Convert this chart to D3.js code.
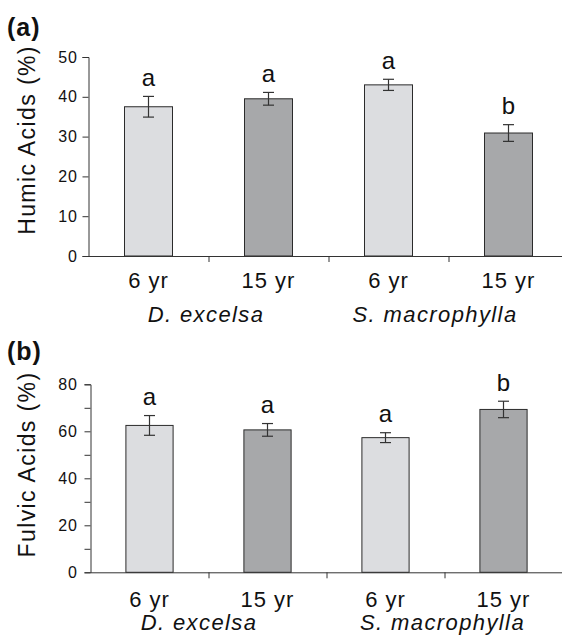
<!DOCTYPE html>
<html>
<head>
<meta charset="utf-8">
<script src="https://cdn.jsdelivr.net/npm/d3@7"></script>
<style>
  body { margin: 0; background: #fff; }
  svg { display: block; font-family: "Liberation Sans", Arial, sans-serif; }
  .axis path, .axis line { stroke: #333; }
  .axis text { font-size: 16px; fill: #111; letter-spacing: 1px; font-family: "Liberation Sans", Arial, sans-serif; }
</style>
</head>
<body>
<svg id="chart" width="562" height="635"></svg>
<script>
// bar order: D. excelsa 6 yr, 15 yr, S. macrophylla 6 yr, 15 yr
var categories = ["6 yr", "15 yr", "6 yr", "15 yr"];
var species = ["D. excelsa", "S. macrophylla"];

var humicMean = [37.5, 39.5, 43.0, 30.9];
var humicErr = [2.6, 1.6, 1.4, 2.1];
var humicLetters = ["a", "a", "a", "b"];
var humicTicks = [0, 10, 20, 30, 40, 50];

var fulvicMean = [62.5, 60.6, 57.3, 69.3];
var fulvicErr = [4.2, 2.7, 2.1, 3.5];
var fulvicLetters = ["a", "a", "a", "b"];
var fulvicTicks = [0, 10, 20, 30, 40, 50, 60, 70, 80];

var ageColor = { "6 yr": "#dcdde0", "15 yr": "#a7a8aa" };

var svg = d3.select('svg#chart');

function drawPanel(p) {
  var g = svg.append('g');
  var idx = d3.range(categories.length);

  var x = d3.scaleBand()
    .domain(idx)
    .range([p.x0, p.x0 + p.step * idx.length])
    .paddingInner(0.6)
    .paddingOuter(0.3);

  // linear twin of the band scale, used for separator ticks on the x axis
  var xSep = d3.scaleLinear()
    .domain([0, idx.length])
    .range(x.range());

  var y = d3.scaleLinear()
    .domain([0, p.max])
    .range([p.yBottom, p.yTop]);

  // bars
  g.selectAll('rect.bar').data(idx).enter().append('rect')
    .attr('class', 'bar')
    .attr('x', i => x(i))
    .attr('y', i => y(p.mean[i]))
    .attr('width', x.bandwidth())
    .attr('height', i => y(0) - y(p.mean[i]))
    .attr('fill', i => ageColor[categories[i]])
    .attr('stroke', '#2b2b2b')
    .attr('stroke-width', 1);

  // error bars
  var eb = g.selectAll('g.err').data(idx).enter().append('g')
    .attr('class', 'err')
    .attr('transform', i => 'translate(' + (x(i) + x.bandwidth() / 2) + ',0)')
    .attr('stroke', '#333')
    .attr('stroke-width', 1.2);
  eb.append('line')
    .attr('x1', 0).attr('x2', 0)
    .attr('y1', i => y(p.mean[i] - p.err[i]))
    .attr('y2', i => y(p.mean[i] + p.err[i]));
  eb.append('line')
    .attr('x1', -5.5).attr('x2', 5.5)
    .attr('y1', i => y(p.mean[i] + p.err[i]))
    .attr('y2', i => y(p.mean[i] + p.err[i]));
  eb.append('line')
    .attr('x1', -5.5).attr('x2', 5.5)
    .attr('y1', i => y(p.mean[i] - p.err[i]))
    .attr('y2', i => y(p.mean[i] - p.err[i]));

  // significance letters
  g.selectAll('text.sig').data(idx).enter().append('text')
    .attr('class', 'sig')
    .attr('x', i => x(i) + x.bandwidth() / 2)
    .attr('y', i => y(p.mean[i] + p.err[i]) - 10.5)
    .attr('text-anchor', 'middle')
    .attr('font-size', 24)
    .attr('fill', '#111')
    .text(i => p.letters[i]);

  // y axis
  g.append('g')
    .attr('class', 'axis')
    .attr('transform', 'translate(' + p.x0 + ',0)')
    .call(d3.axisLeft(y)
      .tickValues(p.ticks)
      .tickSize(6)
      .tickPadding(p.pad)
      .tickFormat(d => (d % p.labelEvery === 0 ? d : '')));

  // x axis with separators between bars
  g.append('g')
    .attr('class', 'axis')
    .attr('transform', 'translate(0,' + y(0) + ')')
    .call(d3.axisBottom(xSep)
      .tickValues([1, 2, 3])
      .tickSize(6)
      .tickSizeOuter(0)
      .tickFormat(''));

  // category labels
  g.selectAll('text.cat').data(idx).enter().append('text')
    .attr('class', 'cat')
    .attr('x', i => x(i) + x.bandwidth() / 2)
    .attr('y', p.catY)
    .attr('text-anchor', 'middle')
    .attr('font-size', 22)
    .attr('letter-spacing', 1)
    .attr('fill', '#111')
    .text(i => categories[i]);

  g.selectAll('text.sp').data(species).enter().append('text')
    .attr('class', 'sp')
    .attr('x', (d, j) => xSep(2 * j + 1) + p.spShift[j])
    .attr('y', p.spY)
    .attr('text-anchor', 'middle')
    .attr('font-size', 22)
    .attr('font-style', 'italic')
    .attr('letter-spacing', 1.4)
    .attr('fill', '#111')
    .text(d => d);

  // y title
  g.append('text')
    .attr('transform', 'translate(35,' + p.titleY + ') rotate(-90)')
    .attr('text-anchor', 'middle')
    .attr('font-size', 23)
    .attr('letter-spacing', 1.4)
    .attr('fill', '#111')
    .text(p.title);

  // panel label
  g.append('text')
    .attr('x', 7)
    .attr('y', p.labelY)
    .attr('font-size', 25)
    .attr('font-weight', 'bold')
    .attr('letter-spacing', 1)
    .attr('fill', '#111')
    .text(p.label);
}

drawPanel({
  label: '(a)', labelY: 36,
  title: 'Humic Acids (%)', titleY: 140,
  mean: humicMean, err: humicErr, letters: humicLetters,
  ticks: humicTicks, labelEvery: 10, max: 50, pad: 4.5,
  x0: 88.5, step: 120, yTop: 57, yBottom: 256,
  catY: 288, spY: 322, spShift: [-2.5, -13.5]
});

drawPanel({
  label: '(b)', labelY: 360,
  title: 'Fulvic Acids (%)', titleY: 464.5,
  mean: fulvicMean, err: fulvicErr, letters: fulvicLetters,
  ticks: fulvicTicks, labelEvery: 20, max: 80, pad: 6.5,
  x0: 90.5, step: 118, yTop: 384.3, yBottom: 572.3,
  catY: 607, spY: 630, spShift: [-9.5, -2]
});
</script>
</body>
</html>
